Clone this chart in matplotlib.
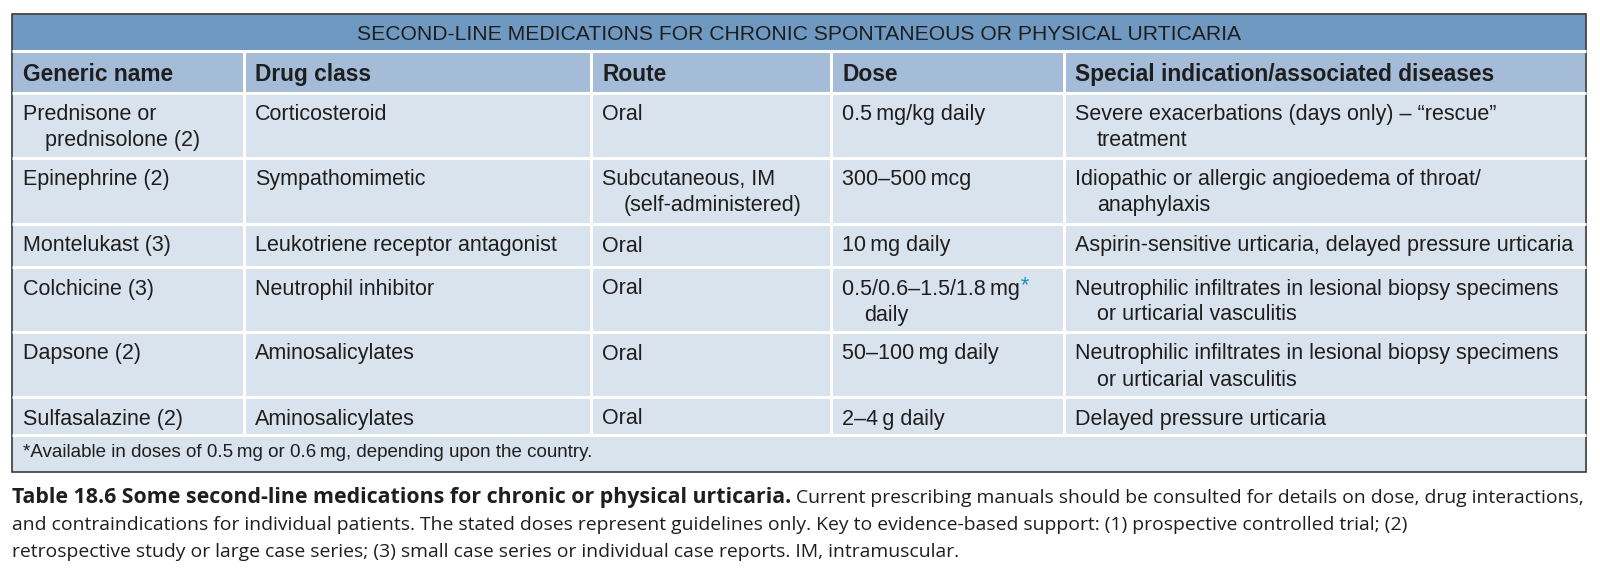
import matplotlib
matplotlib.use('Agg')
import matplotlib.pyplot as plt
from matplotlib.patches import Rectangle
from matplotlib import font_manager

title = "SECOND-LINE MEDICATIONS FOR CHRONIC SPONTANEOUS OR PHYSICAL URTICARIA"
columns = ["Generic name", "Drug class", "Route", "Dose",
           "Special indication/associated diseases"]
generic_names = ["Prednisone or\nprednisolone (2)", "Epinephrine (2)", "Montelukast (3)",
                 "Colchicine (3)", "Dapsone (2)", "Sulfasalazine (2)"]
drug_classes = ["Corticosteroid", "Sympathomimetic", "Leukotriene receptor antagonist",
                "Neutrophil inhibitor", "Aminosalicylates", "Aminosalicylates"]
routes = ["Oral", "Subcutaneous, IM\n(self-administered)", "Oral", "Oral", "Oral", "Oral"]
doses = ["0.5\u2009mg/kg daily", "300\u2013500\u2009mcg", "10\u2009mg daily",
         "0.5/0.6\u20131.5/1.8\u2009mg*\ndaily", "50\u2013100\u2009mg daily", "2\u20134\u2009g daily"]
indications = ["Severe exacerbations (days only) \u2013 \u201crescue\u201d\ntreatment",
               "Idiopathic or allergic angioedema of throat/\nanaphylaxis",
               "Aspirin-sensitive urticaria, delayed pressure urticaria",
               "Neutrophilic infiltrates in lesional biopsy specimens\nor urticarial vasculitis",
               "Neutrophilic infiltrates in lesional biopsy specimens\nor urticarial vasculitis",
               "Delayed pressure urticaria"]
footnote = "*Available in doses of 0.5\u2009mg or 0.6\u2009mg, depending upon the country."
caption_bold = "Table 18.6 Some second-line medications for chronic or physical urticaria."
caption_lines = [" Current prescribing manuals should be consulted for details on dose, drug interactions,",
                 "and contraindications for individual patients. The stated doses represent guidelines only. "
                 "Key to evidence-based support: (1) prospective controlled trial; (2)",
                 "retrospective study or large case series; (3) small case series or individual case reports. "
                 "IM, intramuscular."]

# layout in pixels
col_edges = [12, 244, 591, 831, 1064, 1586]
row_edges = [14, 51, 92.5, 158, 224, 267, 332, 397, 435, 472]
left, right, top, bottom = 12, 1586, 14, 472

title_bg = '#7099c1'
header_bg = '#a4bcd8'
body_bg = '#d9e3ee'
ink = '#1e1e1e'
star_col = '#1b8fbf'

names = {f.name for f in font_manager.fontManager.ttflist}
body_font = 'Liberation Sans'
narrow_font = 'Liberation Sans Narrow' if 'Liberation Sans Narrow' in names else 'Liberation Sans'
cap_font = 'Open Sans'

fig = plt.figure(figsize=(16, 5.75), dpi=100)
ax = fig.add_axes([0, 0, 1, 1])
ax.set_xlim(0, 1600)
ax.set_ylim(575, 0)
ax.axis('off')
renderer = fig.canvas.get_renderer()

ax.add_patch(Rectangle((left, top), right - left, bottom - top, color=body_bg, lw=0))
ax.add_patch(Rectangle((left, row_edges[0]), right - left, row_edges[1] - row_edges[0], color=title_bg, lw=0))
ax.add_patch(Rectangle((left, row_edges[1]), right - left, row_edges[2] - row_edges[1], color=header_bg, lw=0))
for y in row_edges[1:-1]:
    ax.plot([left, right], [y, y], color='white', lw=2.2, solid_capstyle='butt')
for x in col_edges[1:-1]:
    ax.plot([x, x], [row_edges[1], row_edges[-2]], color='white', lw=2.2, solid_capstyle='butt')
ax.add_patch(Rectangle((left, top), right - left, bottom - top, fill=False, ec='#3a3a3a', lw=1.2))


def right_edge(t):
    bb = t.get_window_extent(renderer)
    return ax.transData.inverted().transform((bb.x1, bb.y0))[0]


def width_at(s, size, **kw):
    t = ax.text(0, 0, s, fontsize=size, **kw)
    w = t.get_window_extent(renderer).width
    t.remove()
    return w


# title
ax.text((left + right) / 2, 40, title, ha='center', va='baseline', fontsize=15.2,
        family=body_font, color=ink)

# header
for j, c in enumerate(columns):
    ax.text(col_edges[j] + 11, 81, c, ha='left', va='baseline', fontsize=16.4,
            family=body_font, weight='bold', color=ink)

# body
table_cols = [generic_names, drug_classes, routes, doses, indications]
for i in range(6):
    y0 = row_edges[i + 2] + 27.5
    for j, col in enumerate(table_cols):
        for k, line in enumerate(col[i].split('\n')):
            x = col_edges[j] + 11 + (22 if k > 0 else 0)
            y = y0 + 26 * k
            star = line.endswith('*')
            t = ax.text(x, y, line.rstrip('*'), ha='left', va='baseline', fontsize=15.5,
                        family=body_font, color=ink)
            if star:
                ax.text(right_edge(t) + 1, y - 3, '*', ha='left', va='baseline', fontsize=15.5,
                        family=body_font, color=star_col)

# footnote
fn_size = 15.5 if narrow_font != 'Liberation Sans' else 13.5
ax.text(col_edges[0] + 11, row_edges[-2] + 22, footnote, ha='left', va='baseline',
        fontsize=fn_size, family=narrow_font, color=ink)

# caption: regular size fitted to line 2, bold run fills the rest of line 1
reg_size = 16 * 1399 / width_at(caption_lines[1], 16, family=cap_font)
rest = (right - left) - width_at(caption_lines[0], reg_size, family=cap_font)
bold_size = 16 * rest / width_at(caption_bold, 16, family=cap_font, weight='bold')

tb = ax.text(left, 503, caption_bold, ha='left', va='baseline', fontsize=bold_size,
             family=cap_font, weight='bold', color=ink)
ax.text(right_edge(tb), 503, caption_lines[0], ha='left', va='baseline', fontsize=reg_size,
        family=cap_font, color=ink)
for k, line in enumerate(caption_lines[1:]):
    ax.text(left, 530 + 27 * k, line, ha='left', va='baseline', fontsize=reg_size,
            family=cap_font, color=ink)

fig.savefig('out.png', dpi=100, facecolor='white')
